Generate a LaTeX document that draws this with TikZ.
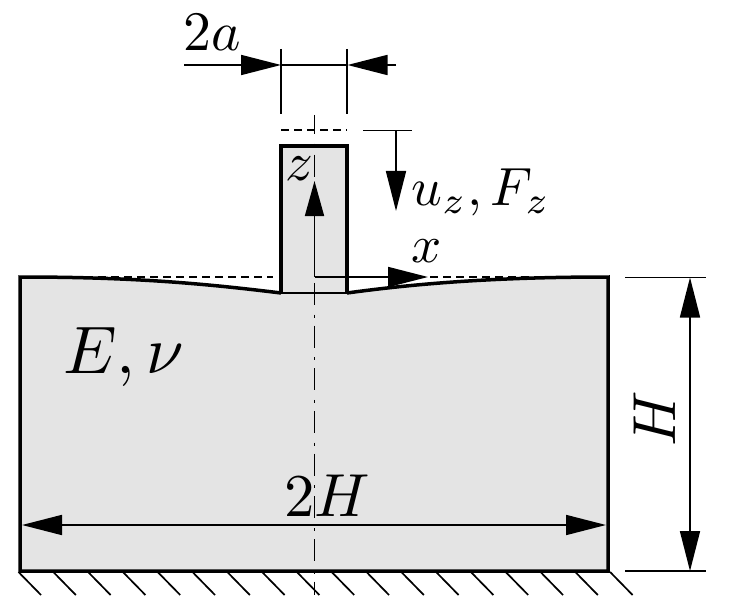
\documentclass[tikz,border=0pt]{standalone}
\usetikzlibrary{arrows.meta}
\definecolor{bodygray}{HTML}{E4E4E4}
\tikzset{
  thick outline/.style={line width=3.5bp,line join=miter},
  thin line/.style={line width=1.7bp},
  dim/.style={thin line,-{Triangle[length=40bp,width=20bp]}},
  shortdash/.style={line width=2bp,dash pattern=on 8bp off 5bp},
  axisline/.style={line width=1.6bp,dash pattern=on 22bp off 9.7bp on 3bp off 8bp,dash phase=3bp},
  lab/.style={inner sep=0pt,anchor=center}
}
\begin{document}
\begin{tikzpicture}[x=1bp,y=-1bp]
\useasboundingbox (0,0) rectangle (749,605);
% key points
\coordinate (BL) at (20,571);
\coordinate (BR) at (608,571);
\coordinate (TL) at (20,277);
\coordinate (TR) at (608,277);
\coordinate (PL) at (281,293);
\coordinate (PR) at (347,293);
\coordinate (PTL) at (281,146);
\coordinate (PTR) at (347,146);
\coordinate (O) at (314.5,277);
% fill
\fill[bodygray] (BL) -- (TL) .. controls (130,277) and (200,283) .. (PL) -- (PTL) -- (PTR) -- (PR) .. controls (420,283) and (500,277) .. (TR) -- (BR) -- cycle;
% outlines
\draw[thick outline] (PL) .. controls (200,283) and (130,277) .. (TL) -- (BL) -- (BR) -- (TR) .. controls (500,277) and (420,283) .. (PR);
\draw[thick outline] (PL) -- (PTL) -- (PTR) -- (PR);
\draw[line width=2.6bp] (PL) -- (PR);
% dashed references
\draw[shortdash] (TL) -- (273,277);
\draw[shortdash] (430,277) -- (TR);
\draw[shortdash] (281,130.5) -- (347,130.5);
% axis
\coordinate (AT) at (314.5,115);
\coordinate (AB) at (314.5,595);
\draw[axisline] (AT) -- (AB);
% hatching
\foreach \i in {0,...,17}{
  \draw[thin line] ({18.5+\i*34.8},572) -- ++(22.5,23);
}
% 2a dimension
\coordinate (EA) at (281,49);
\coordinate (EB) at (347,49);
\coordinate (EA2) at (281,114);
\coordinate (EB2) at (347,114);
\draw[thin line] (EA) -- (EA2);
\draw[thin line] (EB) -- (EB2);
\coordinate (DL) at (184,65);
\coordinate (DLt) at (281,65);
\coordinate (DR) at (396,65);
\coordinate (DRt) at (347.5,65);
\draw[dim] (DL) -- (DLt);
\draw[dim] (DR) -- (DRt);
\draw[thin line] (DLt) -- (DRt);
% u_z arrow
\coordinate (UA) at (363,130.5);
\coordinate (UB) at (412,130.5);
\coordinate (UT) at (396,130.5);
\coordinate (UE) at (396,211);
\draw[thin line] (UA) -- (UB);
\draw[dim] (UT) -- (UE);
% local axes
\coordinate (ZE) at (314.5,181);
\coordinate (XE) at (428,277);
\draw[thin line,-{Triangle[length=35bp,width=19bp]}] (O) -- (ZE);
\draw[dim] (O) -- (XE);
% H dimension
\coordinate (HA) at (625,277.5);
\coordinate (HB) at (706,277.5);
\coordinate (HC) at (625,571);
\coordinate (HD) at (706,571);
\coordinate (HU) at (690,277.5);
\coordinate (HL) at (690,571);
\coordinate (HM) at (690,420);
\draw[thin line] (HA) -- (HB);
\draw[thin line] (HC) -- (HD);
\draw[dim] (HM) -- (HU);
\draw[dim] (HM) -- (HL);
% 2H dimension
\coordinate (WL) at (22,525);
\coordinate (WR) at (606,525);
\coordinate (WM) at (314,525);
\draw[dim] (WM) -- (WL);
\draw[dim] (WM) -- (WR);
% labels
\node[lab,scale=5.6] (la) at (212,33) {$2a$};
\node[lab,scale=5.5] (lz) at (299,169) {$z$};
\node[lab,scale=5.4] (lu) at (481,192) {$u_z,F_z$};
\node[lab,scale=5.3] (lx) at (427,251) {$x$};
\node[lab,scale=6.75] (lE) at (123.5,357) {$E,\nu$};
\node[lab,scale=6.1] (lW) at (327.5,496) {$2H$};
\node[lab,scale=6.1,rotate=90] (lH) at (655,419) {$H$};
\end{tikzpicture}
\end{document}
